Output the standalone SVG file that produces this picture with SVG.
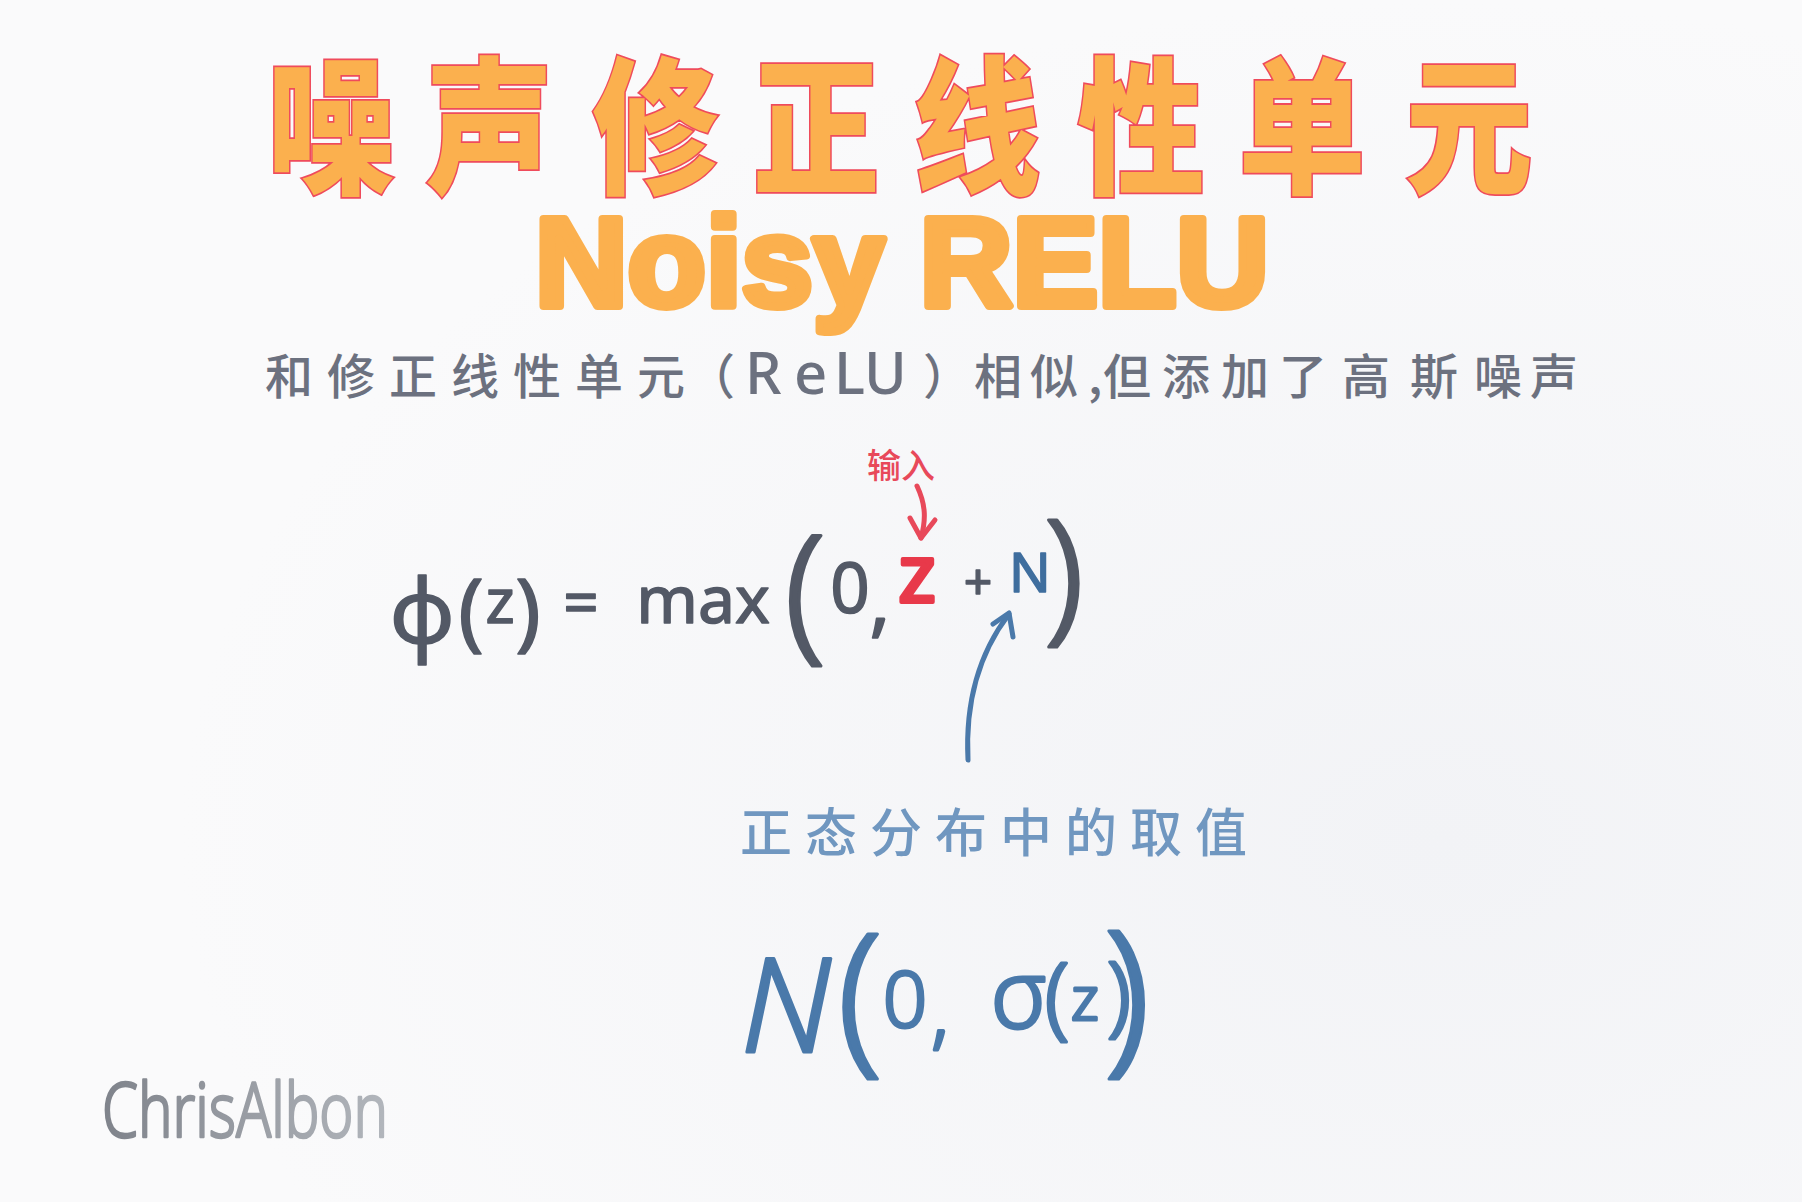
<svg xmlns="http://www.w3.org/2000/svg" width="1802" height="1202" viewBox="0 0 1802 1202">
<defs>
<style>
.title{font-family:"Noto Sans CJK SC","Noto Sans CJK JP",sans-serif;font-weight:900;font-size:148px;fill:#FBB04E;stroke:#EF4B5C;stroke-width:3.5;paint-order:stroke;text-anchor:middle}
.en{font-family:"Liberation Sans",Arial,sans-serif;font-weight:bold;font-size:126px;fill:#FBB04E;stroke:#FBB04E;stroke-width:8;stroke-linejoin:round}
.sub{font-family:"Noto Sans CJK SC",sans-serif;font-weight:500;font-size:48px;fill:#6C717F}
.lat{font-family:"Noto Sans",sans-serif;font-weight:500;font-size:58px}
.f{font-family:"Noto Sans","DejaVu Sans",sans-serif;font-weight:400;fill:#535966;stroke:#535966;stroke-width:1.5;stroke-linejoin:round;text-anchor:middle}
.bp{font-weight:300;stroke-width:3}
.r{fill:#E8394A;stroke:#E8394A;stroke-width:4}
.b{fill:#3F6E9E;stroke:#3F6E9E}
.nb{font-family:"Noto Sans","DejaVu Sans",sans-serif;font-weight:300;fill:#4A79AA;stroke:#4A79AA;stroke-width:3;stroke-linejoin:round;text-anchor:middle}
.lab{font-family:"Noto Sans CJK SC",sans-serif;font-weight:500;text-anchor:middle}
.arr{fill:none;stroke-width:5;stroke-linecap:round;stroke-linejoin:round}
</style>
<radialGradient id="bg" cx="0.8" cy="0.7" r="0.7">
<stop offset="0" stop-color="#F2F3F6"/>
<stop offset="1" stop-color="#FAFAFB"/>
</radialGradient>
<linearGradient id="sig" x1="0" x2="1" y1="0" y2="0">
<stop offset="0" stop-color="#7F838B"/>
<stop offset="1" stop-color="#B2B6BC"/>
</linearGradient>
</defs>
<rect width="1802" height="1202" fill="url(#bg)"/>

<g id="title">
<text class="title" transform="scale(0.86,1)" x="385 569 762 949 1136 1327 1514 1708" y="182">噪声修正线性单元</text>
</g>
<g id="title-en">
<text class="en" x="535" y="306" textLength="734" lengthAdjust="spacingAndGlyphs">Noisy RELU</text>
</g>
<g id="subtitle">
<text class="sub" y="394"><tspan x="265 327 389 451 513 575 637 687">和修正线性单元（</tspan><tspan class="lat" x="745 794 834 864">ReLU</tspan><tspan x="923 974 1030 1088 1103 1162 1221 1279 1342 1410 1474 1530">）相似,但添加了高斯噪声</tspan></text>
</g>

<g id="formula">
<text class="f" x="422" y="643" font-size="90">ϕ</text>
<text class="f" x="471" y="640" font-size="85">(</text>
<text class="f" x="500" y="623" font-size="62">z</text>
<text class="f" x="528" y="640" font-size="85">)</text>
<text class="f" x="581" y="625" font-size="62" stroke-width="3">=</text>
<text class="f" x="703" y="623" font-size="66">max</text>
<text class="f bp" x="805" y="642" font-size="150">(</text>
<text class="f" x="850" y="613" font-size="69">0</text>
<text class="f" x="880" y="628" font-size="80">,</text>
<text class="f r" x="917" y="602" font-size="80">z</text>
<text class="f" x="978" y="599" font-size="50" stroke-width="2.5">+</text>
<text class="f b" x="1030" y="592" font-size="55">N</text>
<text class="f bp" x="1064" y="624" font-size="145">)</text>
</g>

<g id="input-label">
<text class="lab" x="901" y="478" font-size="34" fill="#E8495A">输入</text>
</g>

<g id="normal-label">
<text class="lab" x="1000" y="852" font-size="52" fill="#7097C0" letter-spacing="13">正态分布中的取值</text>
</g>

<g id="normal-dist">
<text class="nb" x="786" y="1052" font-size="130" font-style="italic">N</text>
<text class="nb" x="860" y="1053" font-size="165">(</text>
<text class="nb" x="905" y="1027" font-size="78">0</text>
<text class="nb" x="940" y="1040" font-size="80">,</text>
<text class="nb" x="1019" y="1028" font-size="95">σ</text>
<text class="nb" x="1057" y="1028" font-size="90">(</text>
<text class="nb" x="1085" y="1020" font-size="60">z</text>
<text class="nb" x="1119" y="1025" font-size="88">)</text>
<text class="nb" x="1127" y="1052" font-size="170">)</text>
</g>

<g id="signature">
<text x="102" y="1137" font-family="Noto Sans, DejaVu Sans, sans-serif" font-weight="300" font-size="76" fill="url(#sig)" stroke="url(#sig)" stroke-width="2.5" stroke-linejoin="round" textLength="286" lengthAdjust="spacingAndGlyphs">ChrisAlbon</text>
</g>

<g id="connectors">
<path class="arr" stroke="#E8495A" d="M917 486 C926 505 926 520 921 538"/>
<path class="arr" stroke="#E8495A" d="M910 518 L921 538 L935 520"/>
<path class="arr" stroke="#4A79AA" d="M968 760 C965 700 980 652 1009 614"/>
<path class="arr" stroke="#4A79AA" d="M993 624 L1009 613 L1013 637"/>
</g>
</svg>
